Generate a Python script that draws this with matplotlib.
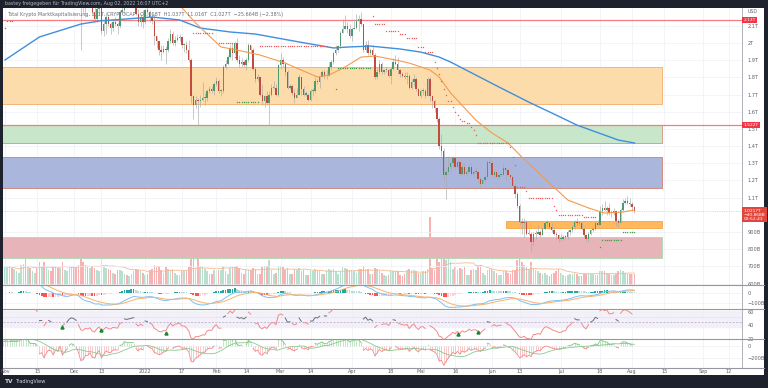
import matplotlib
matplotlib.use("Agg")
import matplotlib.pyplot as plt
import matplotlib.dates as mdates
import numpy as np
import pandas as pd
from matplotlib.patches import Rectangle

# ---- data (billions USD) ----
# closes Oct/Nov 2021, only used to warm up the indicators (candles are above the view)
warmup_close = [2050, 2080, 2100, 2120, 2200, 2300, 2290, 2300, 2310, 2270, 2330, 2300, 2330, 2390, 2480,
                2470, 2460, 2470, 2530, 2610, 2540, 2530, 2560, 2540, 2600, 2560, 2420, 2560, 2650, 2630, 2620,
                2650, 2700, 2720, 2700, 2720, 2730, 2790, 2920, 2950, 2860, 2880, 2820, 2830, 2840, 2800,
                2640, 2640, 2520, 2580, 2620, 2590, 2500, 2570, 2530, 2620, 2440, 2480, 2520, 2590, 2620]

# daily candles 2021-12-01 .. 2022-08-02
close = [2600, 2560, 2450, 2270, 2250, 2290, 2270, 2290, 2180, 2140, 2200, 2230, 2070, 2110, 2150, 2110, 2090, 2120, 2110, 2100, 2180, 2190, 2260, 2250, 2260, 2270, 2280, 2170, 2120, 2150, 2120,
         2190, 2180, 2150, 2130, 2040, 2010, 1960, 1950, 1965, 1960, 2010, 2050, 2000, 2020, 2030, 2035, 1990, 1990, 1960, 1900, 1690, 1640, 1670, 1660, 1670, 1680, 1680, 1720, 1730, 1720, 1760,
         1780, 1720, 1720, 1860, 1880, 1920, 1970, 1940, 2000, 1900, 1880, 1890, 1870, 1900, 1990, 1960, 1850, 1790, 1800, 1700, 1660, 1690, 1650, 1700, 1740, 1740, 1700, 1870,
         1900, 1880, 1830, 1740, 1750, 1710, 1680, 1700, 1800, 1730, 1700, 1700, 1670, 1720, 1720, 1780, 1770, 1800, 1830, 1810, 1810, 1860, 1890, 1940, 1960, 1980, 2060, 2080, 2100, 2080, 2040,
         2080, 2090, 2130, 2140, 2110, 1960, 1990, 1940, 1960, 1930, 1800, 1830, 1880, 1830, 1840, 1840, 1810, 1850, 1890, 1880, 1840, 1820, 1810, 1800, 1810, 1740, 1770, 1790, 1730, 1690,
         1720, 1720, 1690, 1790, 1690, 1660, 1620, 1560, 1400, 1370, 1230, 1250, 1280, 1300, 1330, 1280, 1310, 1240, 1280, 1240, 1250, 1280, 1240, 1250, 1250, 1210, 1180, 1200, 1220, 1310, 1300,
         1230, 1250, 1220, 1230, 1230, 1270, 1260, 1230, 1220, 1170, 1120, 1050, 960, 950, 960, 890, 890, 840, 890, 890, 900, 880, 920, 950, 950, 930, 910, 890, 880, 860,
         860, 870, 870, 900, 910, 930, 960, 950, 950, 920, 880, 860, 890, 910, 920, 950, 940, 1020, 1040, 1030, 1040, 1010, 1010, 1020, 965, 950, 1030, 1070, 1080, 1070, 1060,
         1045, 1022]
high = [2680, 2620, 2600, 2460, 2320, 2310, 2340, 2310, 2300, 2220, 2210, 2250, 2240, 2130, 2180, 2170, 2120, 2140, 2150, 2120, 2190, 2220, 2280, 2290, 2280, 2290, 2320, 2290, 2200, 2170, 2190,
        2200, 2210, 2190, 2180, 2170, 2040, 2010, 1990, 1990, 1980, 2030, 2080, 2070, 2040, 2050, 2050, 2040, 2000, 2010, 2020, 1910, 1700, 1690, 1680, 1700, 1770, 1710, 1730, 1750, 1750, 1770,
        1800, 1790, 1730, 1870, 1900, 1930, 1990, 2000, 2010, 2030, 1930, 1910, 1900, 1910, 2000, 1990, 1970, 1860, 1820, 1800, 1760, 1700, 1720, 1720, 1760, 1780, 1760, 1880,
        1940, 1920, 1890, 1840, 1760, 1760, 1730, 1740, 1820, 1800, 1750, 1720, 1710, 1730, 1740, 1800, 1790, 1810, 1840, 1840, 1840, 1890, 1900, 1950, 1990, 1990, 2070, 2140, 2160, 2120, 2110,
        2090, 2140, 2170, 2160, 2180, 2110, 2010, 2020, 1970, 1990, 1940, 1860, 1900, 1890, 1850, 1860, 1850, 1860, 1910, 1930, 1920, 1850, 1830, 1830, 1830, 1820, 1790, 1820, 1800, 1740,
        1730, 1740, 1730, 1800, 1800, 1690, 1670, 1630, 1570, 1470, 1390, 1270, 1340, 1310, 1340, 1330, 1330, 1310, 1300, 1300, 1260, 1290, 1300, 1260, 1280, 1260, 1220, 1210, 1230, 1320, 1330,
        1320, 1260, 1250, 1240, 1250, 1300, 1270, 1270, 1240, 1230, 1180, 1130, 1060, 980, 980, 970, 920, 900, 900, 910, 940, 910, 930, 960, 970, 960, 950, 930, 900, 890,
        890, 880, 880, 910, 920, 940, 970, 980, 960, 960, 930, 890, 900, 920, 930, 960, 970, 1050, 1060, 1080, 1050, 1070, 1030, 1040, 1020, 975, 1040, 1090, 1100, 1110, 1100,
        1075, 1050]
low = [2550, 2530, 2400, 1960, 2180, 2150, 2250, 2220, 2170, 2120, 2120, 2170, 2050, 2040, 2050, 2100, 2050, 2070, 2100, 2050, 2090, 2170, 2170, 2240, 2240, 2230, 2260, 2160, 2100, 2100, 2090,
       2110, 2170, 2120, 2110, 1990, 1970, 1930, 1900, 1940, 1880, 1950, 2000, 1990, 1980, 2010, 2010, 1970, 1950, 1940, 1890, 1650, 1560, 1620, 1520, 1630, 1660, 1640, 1660, 1710, 1710, 1700,
       1750, 1710, 1690, 1710, 1850, 1870, 1910, 1900, 1930, 1890, 1860, 1860, 1860, 1840, 1890, 1940, 1840, 1770, 1780, 1690, 1640, 1630, 1640, 1520, 1690, 1730, 1690, 1690,
       1850, 1860, 1810, 1730, 1730, 1700, 1650, 1680, 1700, 1700, 1690, 1690, 1660, 1660, 1690, 1710, 1760, 1740, 1800, 1790, 1790, 1810, 1840, 1880, 1930, 1950, 1970, 2060, 2080, 2060, 2030,
       2010, 2080, 2080, 2070, 2100, 1950, 1950, 1930, 1930, 1920, 1790, 1790, 1820, 1820, 1820, 1830, 1800, 1760, 1840, 1870, 1820, 1800, 1800, 1790, 1760, 1730, 1730, 1750, 1720, 1690,
       1680, 1700, 1680, 1690, 1660, 1620, 1600, 1540, 1380, 1340, 1200, 1090, 1240, 1250, 1280, 1260, 1270, 1230, 1230, 1230, 1230, 1250, 1230, 1220, 1240, 1180, 1160, 1180, 1190, 1210, 1280,
       1220, 1220, 1210, 1215, 1220, 1230, 1200, 1220, 1210, 1160, 1100, 1040, 940, 890, 870, 880, 880, 790, 820, 860, 890, 870, 880, 920, 930, 920, 900, 880, 860, 840,
       850, 855, 860, 860, 880, 900, 920, 940, 940, 910, 870, 850, 840, 880, 900, 910, 935, 940, 1000, 1020, 1000, 1000, 990, 1000, 935, 930, 950, 1020, 1060, 1060, 1050,
       1030, 1010]

# daily volume 2021-11-01 .. 2022-08-02
volume = [160, 150, 170, 150, 140, 120, 110, 180, 190, 240, 170, 150, 120, 110, 150, 200, 170, 200, 160, 130, 120, 170, 170, 150, 150, 200, 130, 120, 150, 170,
          170, 160, 180, 250, 200, 180, 160, 150, 170, 150, 130, 120, 330, 160, 150, 140, 130, 110, 100, 130, 130, 120, 100, 90, 80, 100, 120, 140, 130, 120, 110,
          90, 100, 130, 140, 180, 170, 170, 130, 110, 160, 140, 130, 140, 110, 90, 90, 120, 120, 120, 160, 280, 230, 150, 230, 170, 170, 140, 120, 100, 100, 130,
          130, 130, 130, 170, 120, 100, 150, 160, 160, 170, 150, 110, 100, 140, 130, 130, 150, 140, 100, 100, 160, 170, 170, 220, 130, 100, 110, 170,
          170, 160, 130, 150, 100, 100, 140, 130, 150, 120, 130, 90, 90, 130, 120, 140, 120, 120, 100, 100, 130, 140, 130, 140, 120, 100, 120, 160, 150, 140, 130,
          130, 120, 110, 140, 140, 170, 140, 140, 100, 100, 150, 140, 120, 110, 90, 80, 90, 130, 120, 120, 120, 90, 80, 100, 130, 140, 130, 130, 120, 110,
          110, 120, 120, 140, 600, 150, 130, 250, 200, 280, 280, 220, 260, 200, 140, 160, 130, 150, 140, 160, 90, 90, 130, 140, 130, 170, 180, 110, 90, 130, 140,
          140, 120, 110, 90, 90, 120, 120, 110, 100, 130, 130, 220, 250, 200, 180, 160, 140, 200, 150, 130, 120, 110, 100, 110, 90, 80, 100, 110, 120, 140,
          110, 90, 80, 90, 100, 100, 110, 100, 80, 80, 100, 100, 110, 100, 100, 90, 90, 120, 120, 120, 110, 100, 90, 90, 100, 120, 130, 120, 110, 100, 100,
          100, 100]

# moving averages (read at sample dates)
ma200_dates = ["2021-11-01", "2021-11-16", "2021-12-04", "2021-12-12", "2022-01-04", "2022-01-16", "2022-01-25",
               "2022-02-07", "2022-02-18", "2022-03-09", "2022-03-24", "2022-03-31", "2022-04-09", "2022-04-22",
               "2022-05-01", "2022-05-09", "2022-05-14", "2022-06-04", "2022-06-17", "2022-06-29", "2022-07-08",
               "2022-07-26", "2022-08-02"]
ma200_vals = [1901, 2035, 2110, 2128, 2151, 2134, 2087, 2064, 2052, 2006, 1971, 1977, 1982, 1965,
              1947, 1918, 1889, 1744, 1656, 1580, 1522, 1435, 1418]
ma50_dates = ["2021-12-20", "2022-01-05", "2022-01-17", "2022-01-23", "2022-02-03", "2022-02-10", "2022-02-20",
              "2022-03-03", "2022-03-17", "2022-03-22", "2022-03-29", "2022-04-05", "2022-04-11", "2022-04-20",
              "2022-04-26", "2022-05-05", "2022-05-09", "2022-05-14", "2022-05-25", "2022-06-01", "2022-06-08",
              "2022-06-14", "2022-06-26", "2022-07-04", "2022-07-13", "2022-07-20", "2022-07-28", "2022-08-02"]
ma50_vals = [2420, 2300, 2206, 2116, 1977, 1959, 1930, 1883, 1802, 1813, 1860, 1918, 1924, 1901,
             1883, 1843, 1802, 1709, 1551, 1476, 1418, 1336, 1185, 1086, 1040, 1010, 1016, 1028]

# trailing stop dots: start, end, level, side
stop_start = ["2021-11-01", "2021-11-02", "2022-01-22", "2022-02-02", "2022-02-09", "2022-02-10", "2022-02-20",
              "2022-03-25", "2022-03-26", "2022-04-10", "2022-04-11", "2022-04-16", "2022-04-22", "2022-04-25",
              "2022-04-30", "2022-05-03", "2022-05-07", "2022-05-08", "2022-05-09", "2022-05-10", "2022-05-11",
              "2022-05-12", "2022-05-13", "2022-05-15", "2022-05-16", "2022-05-17", "2022-05-18", "2022-05-19",
              "2022-05-21", "2022-05-23", "2022-05-24", "2022-05-25", "2022-05-26", "2022-06-09", "2022-06-10",
              "2022-06-11", "2022-06-12", "2022-06-16", "2022-06-17", "2022-06-28", "2022-06-29", "2022-06-30",
              "2022-07-11", "2022-07-18", "2022-07-19", "2022-07-28"]
stop_end = ["2021-11-01", "2021-11-04", "2022-01-30", "2022-02-08", "2022-02-09", "2022-02-19", "2022-03-21",
            "2022-03-25", "2022-04-09", "2022-04-10", "2022-04-15", "2022-04-21", "2022-04-24", "2022-04-29",
            "2022-05-02", "2022-05-06", "2022-05-07", "2022-05-08", "2022-05-09", "2022-05-10", "2022-05-11",
            "2022-05-12", "2022-05-14", "2022-05-15", "2022-05-16", "2022-05-17", "2022-05-18", "2022-05-20",
            "2022-05-22", "2022-05-23", "2022-05-24", "2022-05-25", "2022-06-08", "2022-06-09", "2022-06-10",
            "2022-06-11", "2022-06-15", "2022-06-16", "2022-06-27", "2022-06-28", "2022-06-29", "2022-07-10",
            "2022-07-16", "2022-07-18", "2022-07-27", "2022-08-02"]
stop_level = [2090, 2130, 2058, 2000, 1918, 1655, 1983,
              1732, 1854, 2157, 2112, 2070, 2052, 2029,
              1977, 1948, 1890, 1855, 1820, 1780, 1735,
              1695, 1660, 1630, 1600, 1580, 1560, 1545,
              1534, 1510, 1493, 1464, 1418, 1394, 1336,
              1290, 1162, 1139, 1098, 1050, 1028, 1000,
              988, 812, 853, 900]
stop_side = ["g", "g", "r", "r", "g", "g", "r",
             "g", "g", "r", "r", "r", "r", "r",
             "r", "r", "r", "r", "r", "r", "r",
             "r", "r", "r", "r", "r", "r", "r",
             "r", "r", "r", "r", "r", "r", "r",
             "r", "r", "r", "r", "r", "r", "r",
             "r", "g", "g", "g"]

# zones: (bottom, top)
zones_bottom = [1645, 1418, 1156, 749]
zones_top = [1860, 1522, 1336, 871]
zone_fill = ["#fddcab", "#c8e6c9", "#aab6dc", "#e6b4b9"]
zone_edge = ["#f3b57a", "#d9a08c", "#d08a80", "#b5d8b5"]
levels = [2134, 1522]
level_labels = ["2.13T", "1.522T"]
last_price = 1021.7

rsi_marks_dates = ["2021-11-26", "2021-12-13", "2022-01-10", "2022-05-17", "2022-05-26"]
rsi_marks_vals = [37.5, 33.0, 29.0, 27.5, 30.5]

time_ticks = ["2021-11-01", "2021-11-15", "2021-12-01", "2021-12-13", "2022-01-01", "2022-01-17", "2022-02-01",
              "2022-02-14", "2022-03-01", "2022-03-14", "2022-04-01", "2022-04-18", "2022-05-01", "2022-05-16",
              "2022-06-01", "2022-06-13", "2022-07-01", "2022-07-18", "2022-08-01", "2022-08-15", "2022-09-01",
              "2022-09-12"]
time_labels = ["Nov", "15", "Dec", "13", "2022", "17", "Feb", "14", "Mar", "14", "Apr", "18", "Mai", "16",
               "Jun", "13", "Jul", "18", "Aug", "15", "Sep", "12"]

# ---- derived series ----
all_close = pd.Series(warmup_close + close,
                      index=pd.date_range("2021-10-01", periods=len(warmup_close) + len(close)))
cdates = pd.date_range("2021-12-01", periods=len(close))
c = np.array(close, float)
o = np.r_[warmup_close[-1], c[:-1]]
h = np.array(high, float)
l = np.array(low, float)

ema12 = all_close.ewm(span=12, adjust=False).mean()
ema26 = all_close.ewm(span=26, adjust=False).mean()
macd = ema12 - ema26
signal = macd.ewm(span=9, adjust=False).mean()
hist = macd - signal

delta = all_close.diff()
gain = delta.clip(lower=0).ewm(alpha=1 / 14, adjust=False).mean()
loss = (-delta.clip(upper=0)).ewm(alpha=1 / 14, adjust=False).mean()
rsi = 100 - 100 / (1 + gain / loss)

osc = all_close - all_close.ewm(span=13, adjust=False).mean()
osc_sig = osc.rolling(12).mean()

vdates = pd.date_range("2021-11-01", periods=len(volume))
vol = pd.Series(volume, index=vdates, dtype=float)
vol_prev = all_close.shift(1).reindex(vdates)
vol_up = all_close.reindex(vdates) >= vol_prev
vol_ma = vol.rolling(20, min_periods=1).mean()

# ---- figure ----
W, H = 768, 388
BG = "#1e222d"
fig = plt.figure(figsize=(W / 100, H / 100), dpi=100)
fig.patch.set_facecolor(BG)
fig.patches.append(Rectangle((3 / W, 1 - 375 / H), 761 / W, 367 / H, transform=fig.transFigure,
                             facecolor="white", edgecolor="none", zorder=-10))


def pane(top, bottom):
    a = fig.add_axes([3 / W, 1 - bottom / H, 739 / W, (bottom - top) / H])
    a.set_facecolor("none")
    return a


ax = pane(8, 285)
ax_m = pane(285, 309)
ax_r = pane(309, 339)
ax_o = pane(339, 368)
axes = [ax, ax_m, ax_r, ax_o]

# volume overlay (created first so the price axis keeps its ticks on the right)
axv = ax.twinx()

x0 = mdates.date2num(pd.Timestamp("2021-11-01"))
xlim = (x0 - 2 / 2.297, x0 + 737 / 2.297)
tick_nums = mdates.date2num(pd.to_datetime(time_ticks))
for a in axes:
    a.set_xlim(*xlim)
    a.set_xticks(tick_nums)
    a.set_xticklabels([])
    a.yaxis.tick_right()
    a.tick_params(axis="both", length=0, labelsize=3.6, colors="#5d606b", pad=4)
    for s in ["left", "top", "bottom"]:
        a.spines[s].set_visible(False)
    a.spines["right"].set_color("#a3a6af")
    a.spines["right"].set_linewidth(0.6)
    a.grid(True, color="#eef0f5", lw=0.5)
    a.set_axisbelow(True)

# main pane
ax.set_ylim(591.3, 2203.6)
pt = [v for v in range(600, 2200, 100) if v != 1000]   # 1T sits under the last-price tag
ax.set_yticks(pt)
ax.set_yticklabels([f"{v / 1000:g}T" if v >= 1000 else f"{v}B" for v in pt])

right_end = mdates.date2num(pd.Timestamp("2022-08-14"))
for b, t, fc, ec in zip(zones_bottom, zones_top, zone_fill, zone_edge):
    ax.add_patch(Rectangle((xlim[0] - 5, b), right_end - xlim[0] + 5, t - b, facecolor=fc,
                           edgecolor=ec, lw=0.7, zorder=1))
jun7 = mdates.date2num(pd.Timestamp("2022-06-07"))
ax.add_patch(Rectangle((jun7, 923), right_end - jun7, 41, facecolor="#ffb85c",
                       edgecolor="#f5a442", lw=0.6, zorder=1))
for lv in levels:
    ax.axhline(lv, color="#f77c80", lw=0.9, zorder=2)
ax.axhline(last_price, color="#f7a0a0", lw=0.5, ls=(0, (1, 1.5)), zorder=2)

axv.set_xlim(*xlim)
axv.set_ylim(0, 2450)
axv.axis("off")
vnum = mdates.date2num(vdates)
axv.bar(vnum, vol.values, width=0.7, color=np.where(vol_up, "#b9e0cf", "#f7b3b3"), zorder=2)
axv.plot(vnum, vol_ma.values, color="#f7b98a", lw=0.6, zorder=3)
ax.set_zorder(axv.get_zorder() + 1)

# candles
cn = mdates.date2num(cdates)
up = c >= o
ax.vlines(cn, l, h, color="#a9a9a9", lw=0.45, zorder=4)
body = np.where(np.abs(c - o) < 6, 6, np.abs(c - o))
ax.bar(cn, body, bottom=np.minimum(o, c), width=0.62,
       color=np.where(up, "#4e9a6e", "#c24b3d"), zorder=5)

# moving averages
ax.plot(mdates.date2num(pd.to_datetime(ma200_dates)), ma200_vals, color="#3f8fdc", lw=1.0, zorder=6)
ax.plot(mdates.date2num(pd.to_datetime(ma50_dates)), ma50_vals, color="#f59a4e", lw=0.8, zorder=6)

# stop dots
for s, e, lv, sd in zip(stop_start, stop_end, stop_level, stop_side):
    dd = mdates.date2num(pd.date_range(s, e))
    ax.plot(dd, np.full(len(dd), lv), ls="none", marker="s", ms=0.9, mew=0,
            color="#f05a5a" if sd == "r" else "#43a047", zorder=7)

# price labels on the axis
lab = dict(transform=ax.get_yaxis_transform(), fontsize=3.2, color="white", ha="left", va="center",
           zorder=10, clip_on=False)
for lv, txt in zip(levels, level_labels):
    ax.text(1.002, lv, txt, bbox=dict(boxstyle="square,pad=0.25", fc="#f23645", ec="none"), **lab)
ax.text(1.002, last_price - 22, "1.0217T\n\u221240.868B\n09:52:43", linespacing=1.05,
        bbox=dict(boxstyle="square,pad=0.3", fc="#e0463c", ec="none"), **lab)
ax.text(1.008, 2185, "USD", transform=ax.get_yaxis_transform(), fontsize=3.4, color="#5d606b",
        va="center", clip_on=False)
ax.text(0.006, 0.985, "Total Krypto Marktkapitalisierung, 1, 1T, CRYPTOCAP   O1.018T  H1.037T  L1.016T  "
        "C1.027T  \u221225.664B (\u22122.38%)", transform=ax.transAxes, fontsize=3.5, color="#6a6d78",
        va="top", zorder=10)

# MACD pane
ax_m.set_ylim(-163, 77)
ax_m.set_yticks([0, -100])
ax_m.set_yticklabels(["0", "\u2212100B"])
mnum = mdates.date2num(all_close.index)
hv = hist.values
dh = np.r_[0, np.diff(hv)]
hcol = np.where(hv >= 0, np.where(dh >= 0, "#26a69a", "#b2dfdb"), np.where(dh <= 0, "#ff5252", "#ffcdd2"))
ax_m.bar(mnum, hv, width=0.75, color=hcol, zorder=2)
ax_m.plot(mnum, macd.values, color="#7cc0f5", lw=0.7, zorder=3)
ax_m.plot(mnum, signal.values, color="#f8b26a", lw=0.7, zorder=3)

# RSI pane
ax_r.set_ylim(20, 64.4)
ax_r.set_yticks([20, 40, 60])
ax_r.axhspan(38, 61.5, color="#f3f0fa", zorder=0)
ax_r.axhline(53, color="#c8c4d6", lw=0.4, ls=(0, (1, 1.5)))
ax_r.axhline(44.7, color="#b0a8c0", lw=0.5, ls=(0, (3, 2)))
rv = rsi.values
inside = (rv > 44.7) & (rv < 55)
ax_r.plot(mnum, np.where(~inside, rv, np.nan), color="#f28a8a", lw=0.7, zorder=3)
ax_r.plot(mnum, np.where(inside, rv, np.nan), color="#6b6e78", lw=0.7, zorder=3)
ax_r.plot(mdates.date2num(pd.to_datetime(rsi_marks_dates)), rsi_marks_vals, ls="none", marker="^",
          ms=2.2, color="#1b8a2e", zorder=4)

# oscillator pane
ax_o.set_ylim(-376, 120)
ax_o.set_yticks([0, -200])
ax_o.set_yticklabels(["0", "\u2212200B"])
ov = osc.values
ax_o.vlines(mnum, 0, ov, colors=np.where(ov >= 0, "#a5d6a7", "#f7a8a8"), lw=0.45, zorder=2)
ax_o.plot(mnum, np.where(ov < 0, ov, np.nan), color="#f28a8a", lw=0.6, zorder=3)
ax_o.plot(mnum, np.where(ov >= 0, ov, np.nan), color="#7cc47f", lw=0.6, zorder=3)
ax_o.plot(mnum, osc_sig.values, color="#8bc98d", lw=0.6, zorder=3)

# pane separators
for y in [285, 309, 339, 368]:
    fig.add_artist(plt.Line2D([3 / W, 764 / W], [1 - y / H, 1 - y / H], color="#9598a1", lw=0.8))

# time axis labels
for tn, tl in zip(tick_nums, time_labels):
    fx = 3 / W + (tn - xlim[0]) / (xlim[1] - xlim[0]) * 739 / W
    fig.text(fx, 1 - 371.5 / H, tl, fontsize=3.5, color="#5d606b", ha="center", va="center")

fig.text(5 / W, 1 - 4 / H, "bastey freigegeben f\u00fcr TradingView.com, Aug 02, 2022 16:07 UTC+2",
         fontsize=3.4, color="#b2b5be", va="center")
fig.text(5 / W, 1 - 381.5 / H, "TV", fontsize=4.2, color="#d1d4dc", va="center", weight="bold")
fig.text(15 / W, 1 - 381.5 / H, "TradingView", fontsize=3.6, color="#d1d4dc", va="center")

fig.savefig("out.png", dpi=100, facecolor=BG)
